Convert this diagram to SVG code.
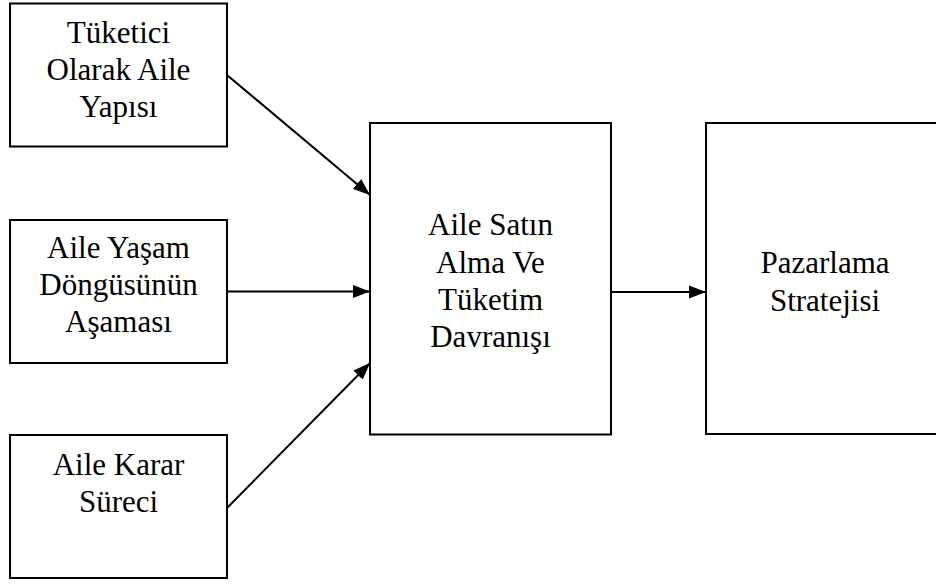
<svg xmlns="http://www.w3.org/2000/svg" width="936" height="584" viewBox="0 0 936 584">
<style>
.box{fill:#fff;stroke:#000;stroke-width:2}
.t{font-family:"Liberation Serif","Times New Roman",serif;font-size:31px;fill:#000;text-anchor:middle}
.c{stroke:#000;stroke-width:2;fill:none;marker-end:url(#ah)}
</style>
<defs>
<marker id="ah" markerUnits="userSpaceOnUse" markerWidth="18" markerHeight="14" refX="17" refY="7" orient="auto">
<path d="M0,0.5 L17,7 L0,13.5 Z" fill="#000"/>
</marker>
</defs>
<rect width="936" height="584" fill="#fff"/>
<g id="n1">
<rect class="box" x="10" y="3.5" width="217" height="143"/>
<text class="t" x="118.5" y="43">Tüketici</text>
<text class="t" x="118.5" y="80">Olarak Aile</text>
<text class="t" x="118.5" y="117">Yapısı</text>
</g>
<g id="n2">
<rect class="box" x="10" y="220" width="217" height="143"/>
<text class="t" x="118.5" y="258">Aile Yaşam</text>
<text class="t" x="118.5" y="295">Döngüsünün</text>
<text class="t" x="118.5" y="332">Aşaması</text>
</g>
<g id="n3">
<rect class="box" x="10" y="435" width="217" height="143"/>
<text class="t" x="118.5" y="475">Aile Karar</text>
<text class="t" x="118.5" y="512">Süreci</text>
</g>
<g id="n4">
<rect class="box" x="370" y="123" width="241" height="311.5"/>
<text class="t" x="490.5" y="235">Aile Satın</text>
<text class="t" x="490.5" y="272.5">Alma Ve</text>
<text class="t" x="490.5" y="310">Tüketim</text>
<text class="t" x="490.5" y="347">Davranışı</text>
</g>
<g id="n5">
<rect class="box" x="706" y="123" width="238" height="311"/>
<text class="t" x="825" y="273">Pazarlama</text>
<text class="t" x="825" y="310.5">Stratejisi</text>
</g>
<g id="connectors">
<path class="c" d="M227,75 L370,195"/>
<path class="c" d="M227,291.5 L370,291.5"/>
<path class="c" d="M227,508 L370,363"/>
<path class="c" d="M611,292 L706,292"/>
</g>
</svg>
